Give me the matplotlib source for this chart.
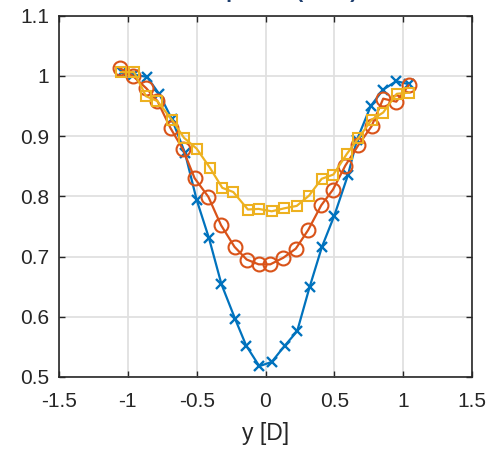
import matplotlib
matplotlib.use("Agg")
import matplotlib.pyplot as plt

# Lateral position y/D and normalised velocity for the three profiles
y_blue = [-1.04, -0.96, -0.86, -0.77, -0.68, -0.585, -0.50, -0.41, -0.32, -0.22,
          -0.14, -0.045, 0.045, 0.14, 0.23, 0.32, 0.41, 0.50, 0.60, 0.665,
          0.765, 0.855, 0.95, 1.04]
u_blue = [1.006, 1.002, 0.998, 0.969, 0.928, 0.872, 0.794, 0.730, 0.654, 0.596,
          0.552, 0.518, 0.525, 0.552, 0.576, 0.649, 0.716, 0.768, 0.836, 0.894,
          0.950, 0.977, 0.991, 0.986]

y_orange = [-1.06, -0.965, -0.865, -0.785, -0.69, -0.60, -0.515, -0.415, -0.323, -0.225,
            -0.137, -0.05, 0.035, 0.13, 0.22, 0.31, 0.405, 0.49, 0.58, 0.675,
            0.77, 0.855, 0.95, 1.04]
u_orange = [1.013, 1.000, 0.979, 0.958, 0.913, 0.878, 0.830, 0.799, 0.752, 0.716,
            0.695, 0.687, 0.687, 0.698, 0.713, 0.744, 0.785, 0.811, 0.851, 0.885,
            0.916, 0.962, 0.957, 0.984]

y_yellow = [-1.05, -0.955, -0.868, -0.786, -0.677, -0.592, -0.50, -0.403, -0.314, -0.234,
            -0.128, -0.05, 0.045, 0.137, 0.227, 0.316, 0.408, 0.493, 0.59, 0.674,
            0.771, 0.855, 0.953, 1.044]
u_yellow = [1.006, 1.006, 0.966, 0.958, 0.926, 0.897, 0.879, 0.847, 0.814, 0.807,
            0.778, 0.779, 0.775, 0.780, 0.784, 0.801, 0.829, 0.836, 0.870, 0.896,
            0.927, 0.939, 0.970, 0.972]

x_ticks = [-1.5, -1, -0.5, 0, 0.5, 1, 1.5]
x_ticklabels = ["-1.5", "-1", "-0.5", "0", "0.5", "1", "1.5"]
y_ticks = [0.5, 0.6, 0.7, 0.8, 0.9, 1.0, 1.1]
y_ticklabels = ["0.5", "0.6", "0.7", "0.8", "0.9", "1", "1.1"]

plt.rcParams["font.family"] = ["Liberation Sans", "DejaVu Sans"]

fig = plt.figure(figsize=(4.91, 4.50), dpi=100)
ax = fig.add_axes([59 / 491, 1 - 377 / 450, (472 - 59) / 491, (377 - 15.5) / 450])

lw = 1.6
ax.plot(y_blue, u_blue, color="#0072BD", lw=lw, marker="x", ms=6.5, mew=1.7, zorder=3)
ax.plot(y_orange, u_orange, color="#D95319", lw=lw, marker="o", ms=10, mew=1.5,
        mfc="none", zorder=4)
ax.plot(y_yellow, u_yellow, color="#EDB120", lw=lw, marker="s", ms=7.5, mew=1.5,
        mfc="none", zorder=5)

ax.set_xlim(-1.5, 1.5)
ax.set_ylim(0.5, 1.1)
ax.set_xticks(x_ticks)
ax.set_xticklabels(x_ticklabels)
ax.set_yticks(y_ticks)
ax.set_yticklabels(y_ticklabels)

ax.grid(True, color="#e0e0e0", lw=1.3)
ax.set_axisbelow(True)
for s in ax.spines.values():
    s.set_color("#262626")
    s.set_linewidth(1.2)
ax.tick_params(direction="in", length=4, width=1.0, top=True, right=True,
               colors="#262626", labelsize=15)
ax.tick_params(axis="y", pad=7)
ax.tick_params(axis="x", pad=11)

ax.set_xlabel("y [D]", fontsize=16.5, color="#262626", labelpad=8)

# title sits above the top edge of the canvas, only its descenders remain
fig.text(167 / 491, 1 - 2.5 / 450, "Mean profile (x = 4)", ha="left", va="bottom",
         fontsize=15, fontweight="bold", color="#1f3f6f")

fig.savefig("out.png", dpi=100)
